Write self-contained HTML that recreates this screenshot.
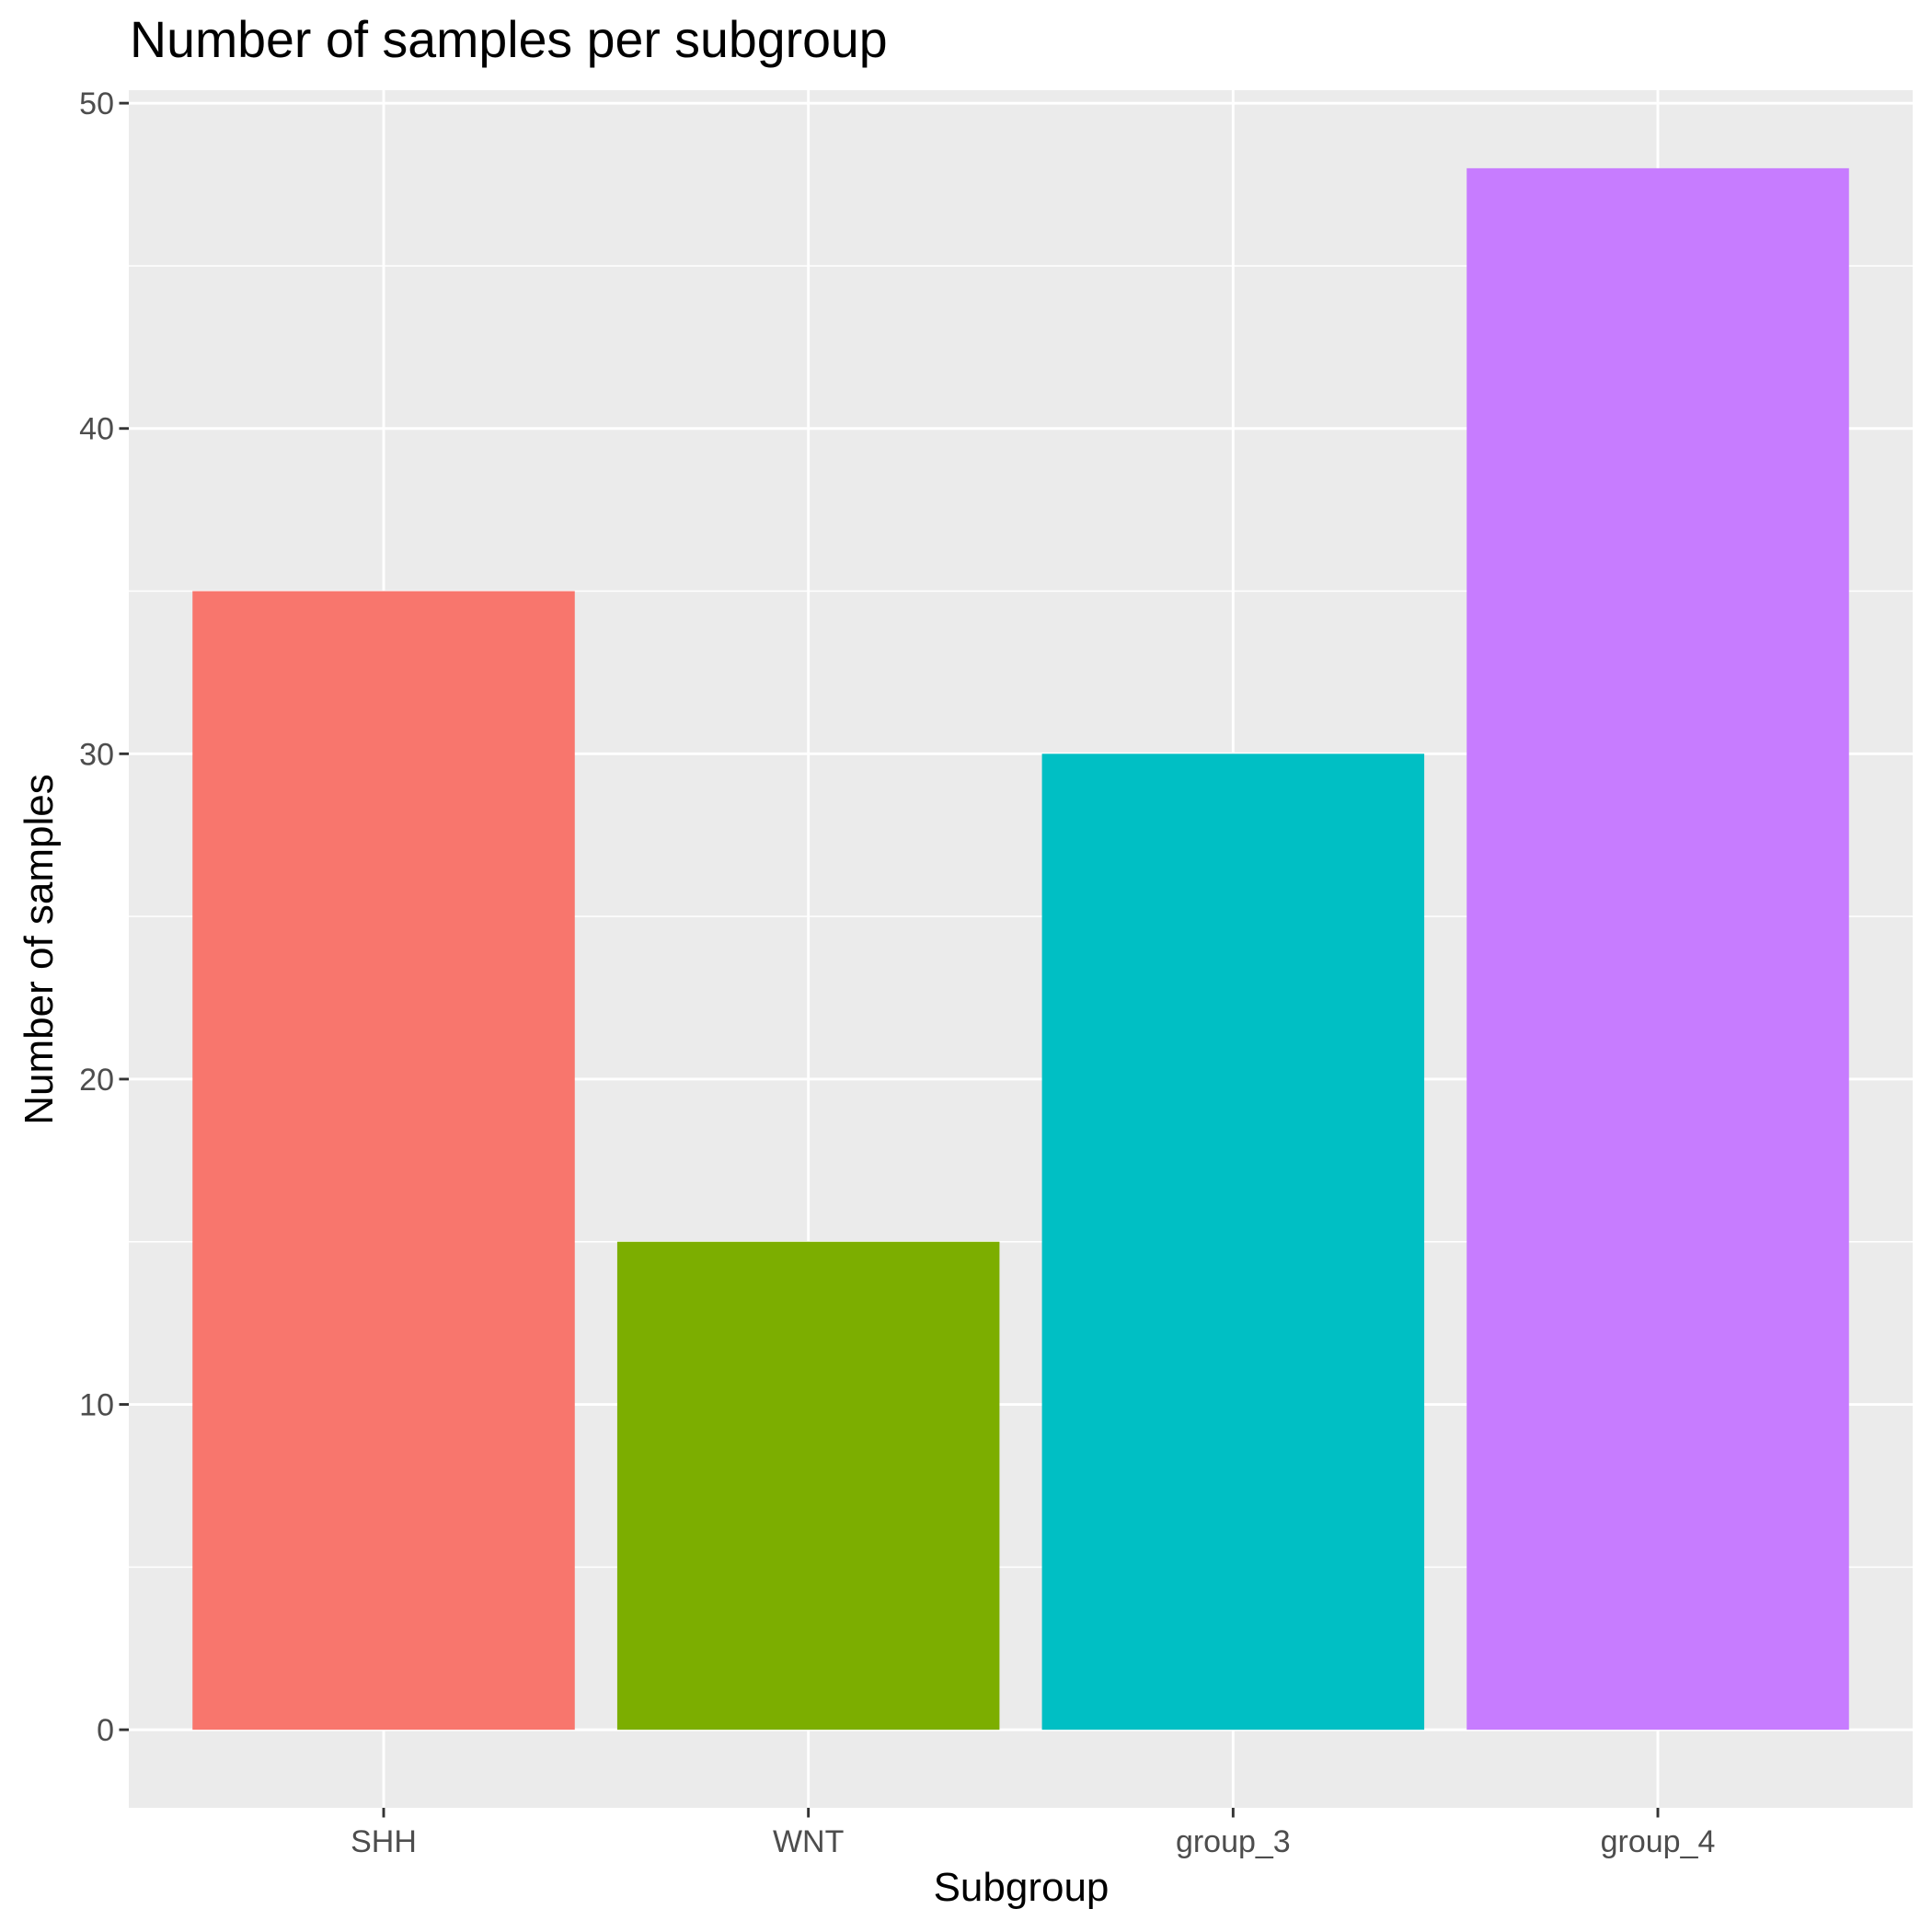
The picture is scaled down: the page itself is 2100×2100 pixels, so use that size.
<!DOCTYPE html>
<html><head><meta charset="utf-8"><style>
html,body{margin:0;padding:0;background:#fff;}
svg{display:block;font-family:"Liberation Sans",Arial,sans-serif;}
</style></head><body>
<svg id="chart" width="2100" height="2100" viewBox="0 0 2100 2100" xmlns="http://www.w3.org/2000/svg">
<rect width="2100" height="2100" fill="#fff"/>
<text x="141" y="62" font-size="55.5" fill="#000">Number of samples per subgroup</text>
<g id="panel"></g>
<text x="1110" y="2066" font-size="44" text-anchor="middle" fill="#000">Subgroup</text>
<text transform="translate(57,1032) rotate(-90)" font-size="44" text-anchor="middle" fill="#000">Number of samples</text>
</svg>
<script>
const categories = ["SHH", "WNT", "group_3", "group_4"];
const counts = [35, 15, 30, 48];
const colors = ["#F8766D", "#7CAE00", "#00BFC4", "#C77CFF"];
const yTicks = [0, 10, 20, 30, 40, 50];
const yMinor = [5, 15, 25, 35, 45];

const NS = "http://www.w3.org/2000/svg";
const PL = 140, PR = 2079, PT = 98, PB = 1965;
const maxV = Math.max(...counts);
const yLo = -0.05 * maxV, yHi = maxV * 1.05;
const y = v => PB - (v - yLo) / (yHi - yLo) * (PB - PT);
const n = categories.length;
const band = (PR - PL) / (n + 0.2);
const x = i => PL + band * (0.6 + i);

const g = document.getElementById('panel');
function mk(tag, attrs) {
  const e = document.createElementNS(NS, tag);
  for (const k in attrs) e.setAttribute(k, attrs[k]);
  return e;
}
const bg = mk('rect', {x: PL, y: PT, width: PR - PL, height: PB - PT, fill: '#EBEBEB'});


g.appendChild(bg);

yMinor.forEach(v => {
  const l = mk('line', {x1: PL, x2: PR, y1: y(v), y2: y(v), stroke: '#fff', 'stroke-width': 1.5});
  
  
  g.appendChild(l);
});
yTicks.forEach(v => {
  const l = mk('line', {x1: PL, x2: PR, y1: y(v), y2: y(v), stroke: '#fff', 'stroke-width': 2.9});
  
  
  g.appendChild(l);
  const t = mk('line', {x1: PL - 10.5, x2: PL, y1: y(v), y2: y(v), stroke: '#333', 'stroke-width': 2.9});
  
  
  g.appendChild(t);
  const tx = mk('text', {x: PL - 16, y: y(v) + 12, 'font-size': 34, fill: '#4D4D4D', 'text-anchor': 'end'});
  tx.textContent = v;
  
  
  g.appendChild(tx);
});
categories.forEach((c, i) => {
  const l = mk('line', {x1: x(i), x2: x(i), y1: PT, y2: PB, stroke: '#fff', 'stroke-width': 2.9});
  
  
  g.appendChild(l);
});
categories.forEach((c, i) => {
  const w = band * 0.9;
  const r = mk('rect', {x: x(i) - w / 2, y: y(counts[i]), width: w, height: y(0) - y(counts[i]), fill: colors[i]});
  
  
  g.appendChild(r);
  const t = mk('line', {x1: x(i), x2: x(i), y1: PB, y2: PB + 10.5, stroke: '#333', 'stroke-width': 2.9});
  
  
  g.appendChild(t);
  const tx = mk('text', {x: x(i), y: PB + 48, 'font-size': 34, fill: '#4D4D4D', 'text-anchor': 'middle'});
  tx.textContent = c;
  
  
  g.appendChild(tx);
});
</script>
</body></html>
